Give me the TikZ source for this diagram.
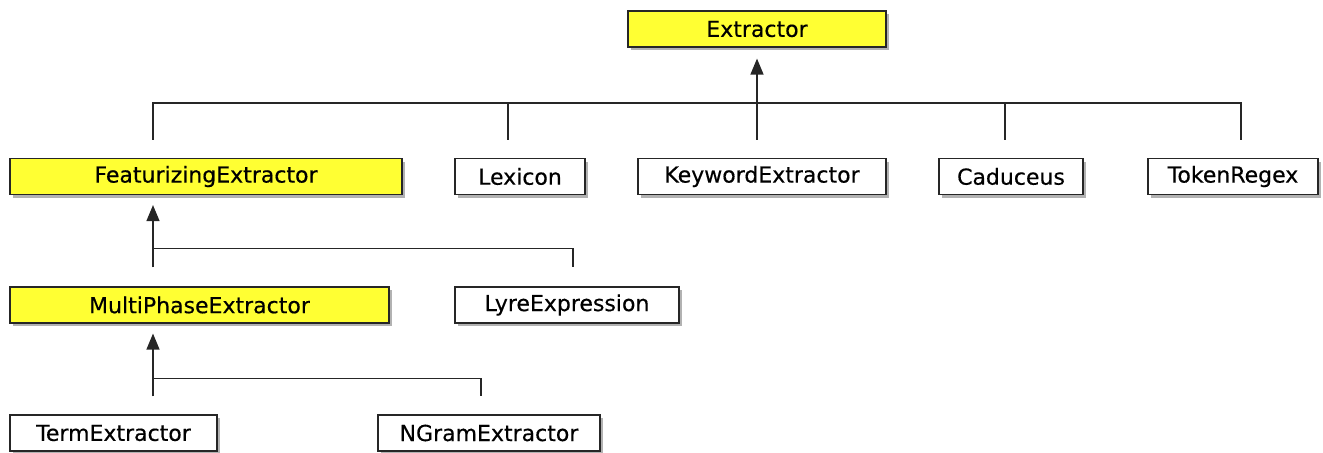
\documentclass[tikz,border=0pt]{standalone}
\usepackage{fontspec}
\setmainfont{DejaVu Sans}[UprightFeatures={FakeBold=0.4}]
\usepackage{xcolor}
\usetikzlibrary{arrows.meta,calc,shadows}
\definecolor{clsyellow}{RGB}{255,255,51}

\begin{document}
\begin{tikzpicture}[x=0.5pt,y=-0.5pt,
  cls/.style={draw=black!85,line width=0.6pt,fill=white,inner sep=0pt,
    minimum height=18pt,font=\fontsize{11pt}{13pt}\selectfont,
    drop shadow={shadow xshift=1.6pt,shadow yshift=-1.6pt,fill=black,opacity=0.3}},
  abstr/.style={cls,fill=clsyellow},
  link/.style={line width=0.7pt,black!85},
  inherit/.style={link,-{Triangle[length=8pt,width=6.5pt]}}]
\useasboundingbox (0,0) rectangle (1323,453);

\node[abstr,minimum width=129pt] (extr) at (757,29) {Extractor};

\node[abstr,minimum width=196pt] (feat) at (206,176.5) {FeaturizingExtractor};
\node[cls,minimum width=65pt] (lex) at (520,176.5) {Lexicon};
\node[cls,minimum width=124pt] (kw) at (762,176.5) {KeywordExtractor};
\node[cls,minimum width=72pt] (cad) at (1011,176.5) {Caduceus};
\node[cls,minimum width=85pt] (tok) at (1233,176.5) {TokenRegex};

\node[abstr,minimum width=189.5pt] (multi) at (199.5,305) {MultiPhaseExtractor};
\node[cls,minimum width=112pt] (lyre) at (567,305) {LyreExpression};

\node[cls,minimum width=103.5pt] (term) at (113.5,433) {TermExtractor};
\node[cls,minimum width=111pt] (ngram) at (489,433) {NGramExtractor};

% Extractor
\draw[link] ($(feat.north)+(-53,-18)$) -- ++(0,-37) -| ($(tok.north)+(8,-18)$);
\draw[link] ($(lex.north)+(-12,-18)$) -- ++(0,-37);
\draw[link] ($(cad.north)+(-6,-18)$) -- ++(0,-37);
\draw[inherit] ($(kw.north)+(-5,-18)$) -- ($(extr.south)+(0,11)$);

% FeaturizingExtractor
\draw[inherit] ($(multi.north)+(-46.5,-19)$) -- ($(feat.south)+(-53,10)$);
\draw[link] ($(multi.north)+(-46.5,-38)$) -| ($(lyre.north)+(6,-19)$);

% MultiPhaseExtractor
\draw[inherit] ($(term.north)+(39.5,-18)$) -- ($(multi.south)+(-46.5,10)$);
\draw[link] ($(term.north)+(39.5,-36)$) -| ($(ngram.north)+(-8,-18)$);
\end{tikzpicture}
\end{document}
